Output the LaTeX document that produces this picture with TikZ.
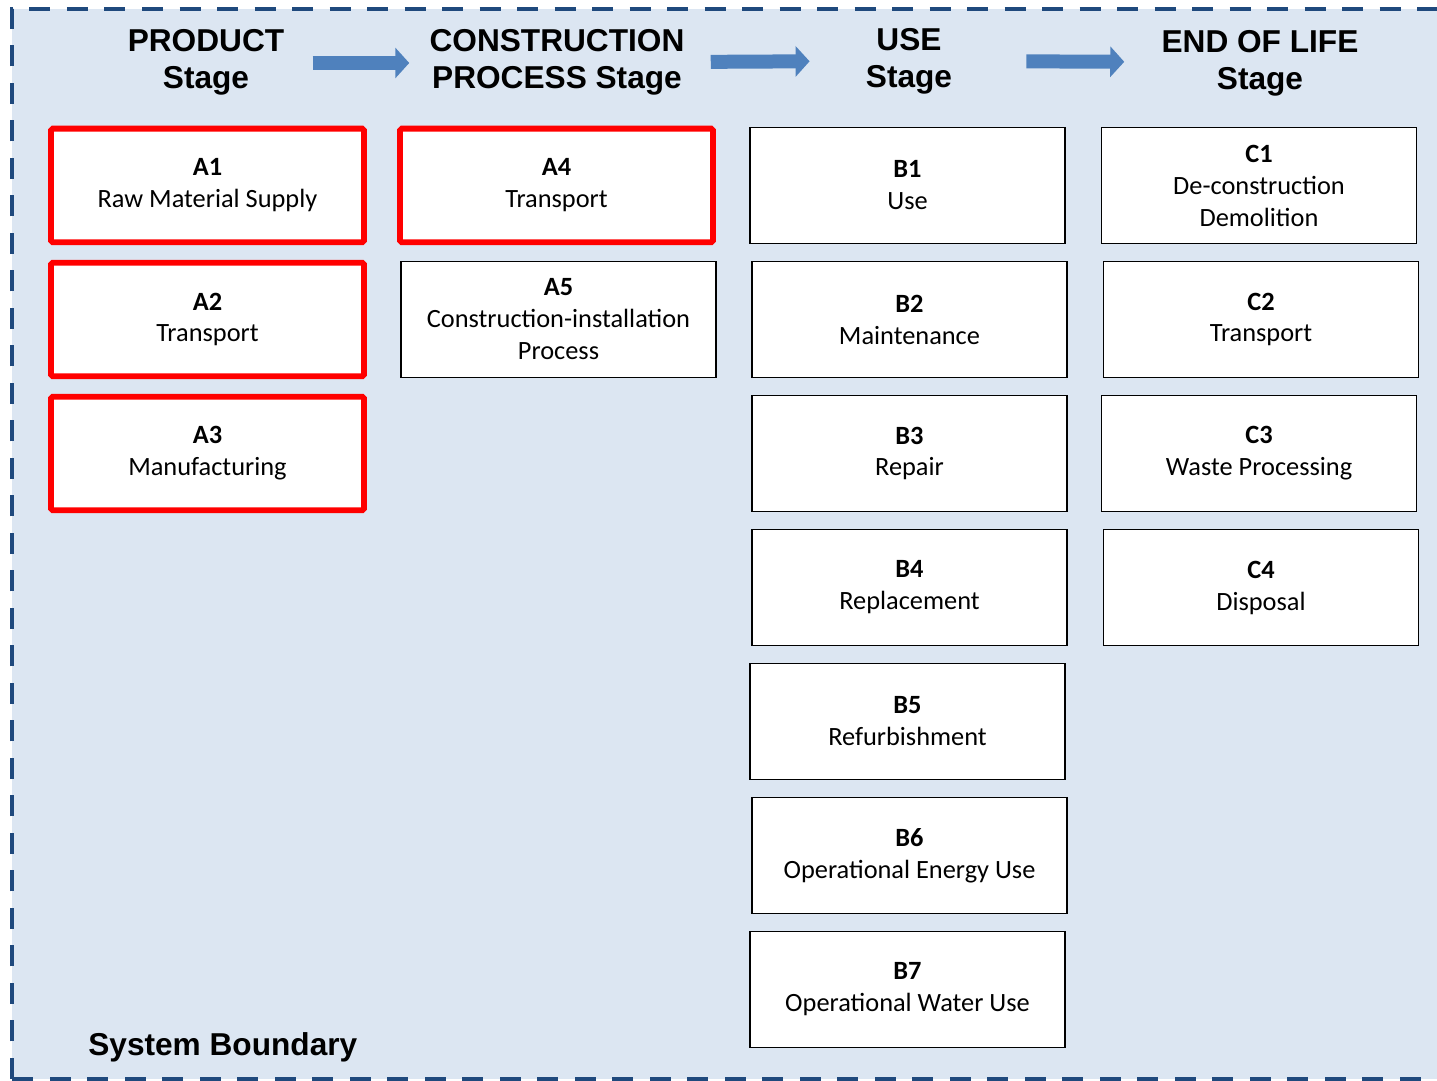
\documentclass[tikz,border=0pt]{standalone}
\usepackage{fontspec}
\setmainfont{Carlito}
\newfontfamily\headfont{Liberation Sans}
\usetikzlibrary{arrows.meta}
\definecolor{boundfill}{HTML}{DCE6F2}
\definecolor{boundline}{HTML}{1F497D}
\definecolor{flowblue}{HTML}{4F81BD}
\tikzset{
  module/.style={draw=black, line width=1.1pt, fill=white, minimum width=6.3cm,
    minimum height=2.32cm, align=center, inner sep=0pt,
    font=\fontsize{15}{18.2}\selectfont},
  inscope/.style={module, draw=red, line width=3.4pt, rounded corners=1pt,
    minimum width=6.26cm, minimum height=2.27cm},
  stagehead/.style={align=center, inner sep=0pt,
    font=\headfont\bfseries\fontsize{18}{21}\selectfont},
  flow/.style={draw=flowblue, line width=0.28cm,
    -{Triangle[length=0.28cm,width=0.6cm]}},
}
\begin{document}
\begin{tikzpicture}
\clip (0,0) rectangle (28.74,21.62);
% System boundary
\draw[boundline, fill=boundfill, line width=0.09cm, dash pattern=on 0.42cm off 0.33cm]
  (0.24,0.04) rectangle (29.3,21.44);
\node[anchor=west, inner sep=0pt, font=\headfont\bfseries\fontsize{18}{21}\selectfont] (boundary) at (1.76,0.68) {System Boundary};

% Stage headings
\node[stagehead] (product) at (4.12,20.38) {PRODUCT\\Stage};
\node[stagehead] (construction) at (11.14,20.38) {CONSTRUCTION\\PROCESS Stage};
\node[stagehead] (use) at (18.18,20.4) {USE\\Stage};
\node[stagehead] (eol) at (25.2,20.36) {END OF LIFE\\Stage};

% Arrows between stages
\draw[flow, shorten <=0.56cm, shorten >=0.4cm] ([yshift=-0.02cm]product.east) -- ([yshift=-0.02cm]construction.west);
\draw[flow, shorten <=0.52cm, shorten >=1.12cm] (construction.east) -- (use.west);
\draw[flow, shorten <=1.48cm, shorten >=0.74cm] (use.east) -- ([yshift=0.02cm]eol.west);

% Modules: product stage
\node[inscope] (a1) at (4.15,17.91) {\textbf{A1}\\Raw Material Supply};
\node[inscope] (a2) at (4.15,15.23) {\textbf{A2}\\Transport};
\node[inscope] (a3) at (4.15,12.55) {\textbf{A3}\\Manufacturing};
% construction process stage
\node[inscope] (a4) at (11.13,17.91) {\textbf{A4}\\Transport};
\node[module] (a5) at (11.17,15.23) {\textbf{A5}\\Construction-installation\\Process};
% use stage
\node[module] (b1) at (18.15,17.91) {\textbf{B1}\\Use};
\node[module] (b2) at (18.19,15.23) {\textbf{B2}\\Maintenance};
\node[module] (b3) at (18.19,12.55) {\textbf{B3}\\Repair};
\node[module] (b4) at (18.19,9.87) {\textbf{B4}\\Replacement};
\node[module] (b5) at (18.15,7.19) {\textbf{B5}\\Refurbishment};
\node[module] (b6) at (18.19,4.51) {\textbf{B6}\\Operational Energy Use};
\node[module] (b7) at (18.15,1.83) {\textbf{B7}\\Operational Water Use};
% end of life stage
\node[module] (c1) at (25.18,17.91) {\textbf{C1}\\De-construction\\Demolition};
\node[module] (c2) at (25.22,15.23) {\textbf{C2}\\Transport};
\node[module] (c3) at (25.18,12.55) {\textbf{C3}\\Waste Processing};
\node[module] (c4) at (25.22,9.87) {\textbf{C4}\\Disposal};
\end{tikzpicture}
\end{document}
